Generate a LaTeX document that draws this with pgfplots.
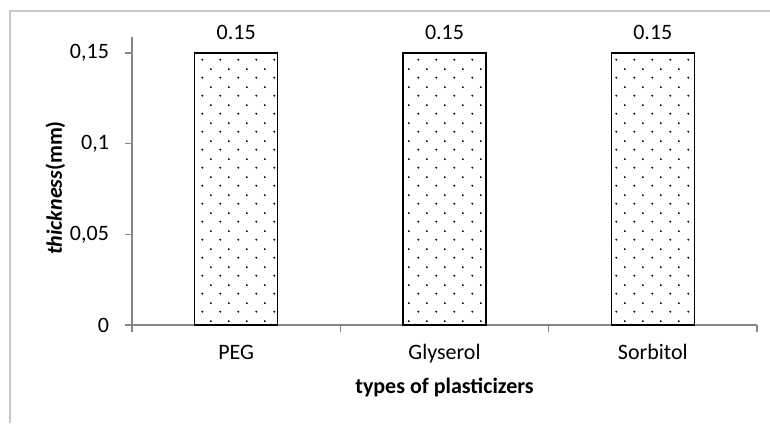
\documentclass[border=0pt]{standalone}
\usepackage{fontspec}
\setmainfont{Carlito}
\usepackage{pgfplots}
\pgfplotsset{compat=1.18}
\usetikzlibrary{patterns}
\definecolor{axisgray}{RGB}{134,134,134}
\definecolor{framegray}{RGB}{200,200,200}
\newcommand{\chartfont}{\fontsize{11pt}{13pt}\selectfont}

% staggered dot fill, as in the spreadsheet's dotted pattern
\pgfdeclarepatternformonly{exceldots}{\pgfpointorigin}{\pgfqpoint{9pt}{9pt}}{\pgfqpoint{9pt}{9pt}}{%
  \pgfpathcircle{\pgfqpoint{2.25pt}{2.25pt}}{0.55pt}%
  \pgfpathcircle{\pgfqpoint{6.75pt}{6.75pt}}{0.55pt}%
  \pgfusepath{fill}}

\pgfplotstableread{
x  thick
0  0.15
1  0.15
2  0.15
}\thicktable

\begin{document}
\begin{tikzpicture}
\path[use as bounding box] (0,0) rectangle (385pt,211.5pt);
% chart frame
\draw[framegray, line width=0.7pt] (5pt,0) -- (5pt,206pt) -- (385pt,206pt);

\begin{axis}[
    at={(66pt,49pt)}, anchor=south west,
    scale only axis,
    width=312.5pt, height=144pt,
    xmin=-0.5, xmax=2.5,
    ymin=0, ymax=0.1588,
    axis x line*=bottom, axis y line*=left,
    axis line style={axisgray, line width=0.6pt, -},
    tick style={axisgray, line width=0.6pt},
    tick align=outside,
    major tick length=3.5pt,
    ytick={0,0.05,0.1,0.15},
    yticklabel style={font=\chartfont, xshift=-4.5pt, /pgf/number format/use comma, /pgf/number format/fixed},
    xtick={-0.5,0.5,1.5,2.5},
    xticklabels={},
    extra x ticks={0,1,2},
    extra x tick labels={PEG,Glyserol,Sorbitol},
    extra x tick style={major tick length=0pt,
        tick label style={font=\chartfont, anchor=base, yshift=-17pt}},
    /pgf/number format/assume math mode=true,
    ylabel={\textbf{\textit{thickness}(mm)}},
    xlabel={\textbf{types of plasticizers}},
    every axis y label/.style={at={(rel axis cs:-0.1225,0.4757)}, rotate=90, anchor=center, font=\chartfont},
    every axis x label/.style={at={(rel axis cs:0.5,-0.2153)}, anchor=center, font=\chartfont},
    ybar, bar width=41.5pt,
    nodes near coords={\pgfmathprintnumber[fixed,precision=2]{\pgfplotspointmeta}},
    nodes near coords style={font=\chartfont, anchor=base, yshift=6.5pt},
    clip=false,
]
\addplot[draw=black, line width=0.8pt, pattern=exceldots, pattern color=black] table[x=x, y=thick] {\thicktable};
\end{axis}
\end{tikzpicture}
\end{document}
